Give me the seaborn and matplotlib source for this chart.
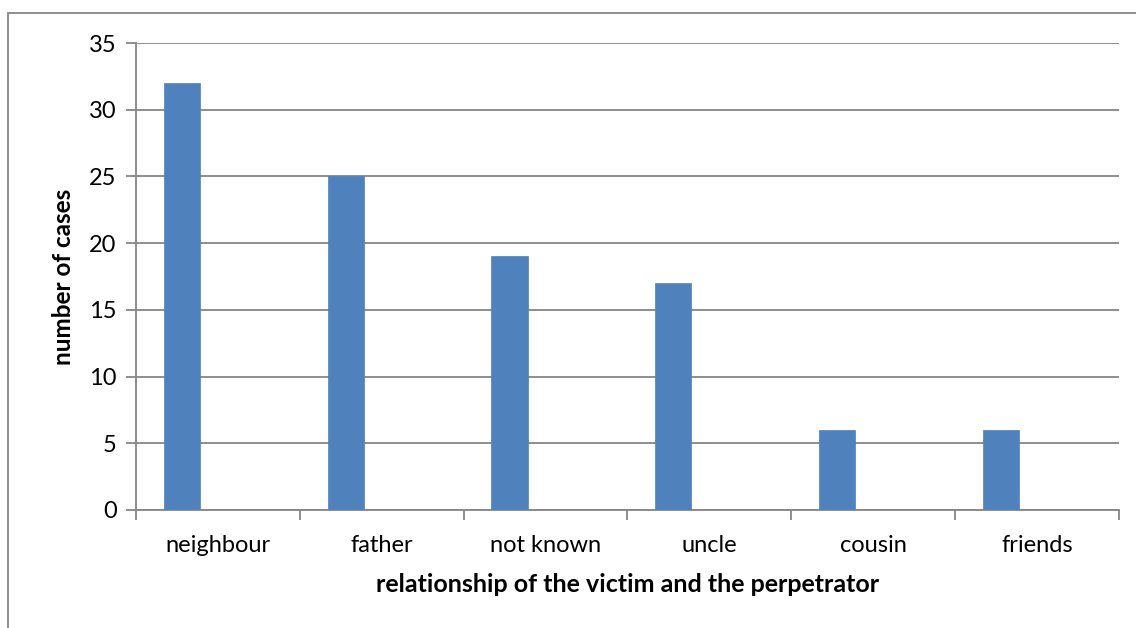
import matplotlib
matplotlib.use("Agg")
import matplotlib.pyplot as plt
import matplotlib.patches as mpatches
import numpy as np
import pandas as pd
import seaborn as sns

categories = ["neighbour", "father", "not known", "uncle", "cousin", "friends"]
cases = [32, 25, 19, 17, 6, 6]
series = ["Series1", "Series2", "Series3"]  # only the first one holds values

sns.set_theme(style="white")
plt.rcParams["font.family"] = ["Lato", "DejaVu Sans"]

rows = []
for cat, val in zip(categories, cases):
    rows.append({"relation": cat, "series": series[0], "cases": val})
    for s in series[1:]:
        rows.append({"relation": cat, "series": s, "cases": np.nan})
df = pd.DataFrame(rows)

fig = plt.figure(figsize=(11.36, 6.28), dpi=100)
ax = fig.add_axes([0.1197, 0.188, 0.985 - 0.1197, 0.9315 - 0.188])

sns.barplot(data=df, x="relation", y="cases", hue="series", hue_order=series,
            order=categories, palette=["#4F81BD", "#C0504D", "#9BBB59"],
            width=0.66, saturation=1, errorbar=None, legend=False, ax=ax,
            edgecolor="#4F81BD", linewidth=0.5, zorder=3)

ax.set_xlim(-0.5, len(categories) - 0.5)
ax.set_ylim(0, 35)
ax.set_yticks(range(0, 36, 5))
ax.yaxis.grid(True, color="#868686", linewidth=1.3)
ax.set_axisbelow(True)

for side in ["top", "right"]:
    ax.spines[side].set_visible(False)
for side in ["left", "bottom"]:
    ax.spines[side].set_color("#868686")
    ax.spines[side].set_linewidth(1.3)

ax.set_xticks(np.arange(-0.5, len(categories), 1.0), minor=True)
ax.tick_params(axis="x", which="minor", length=7, width=1.3, color="#868686", bottom=True)
ax.tick_params(axis="x", which="major", length=0, pad=18, labelsize=17, labelcolor="black")
ax.tick_params(axis="y", length=7, width=1.3, color="#868686", left=True, pad=7,
               labelsize=17, labelcolor="black")

ax.set_xlabel("relationship of the victim and the perpetrator", fontsize=18,
              fontweight="bold", labelpad=12, color="black")
ax.set_ylabel("number of cases", fontsize=17.5, fontweight="bold", labelpad=10, color="black")

border = mpatches.Rectangle((8 / 1136, -0.1), 1.2, 1 - 13 / 628 + 0.1, transform=fig.transFigure,
                            fill=False, edgecolor="#868686", linewidth=1.3)
fig.patches.append(border)

fig.savefig("out.png", dpi=100)
